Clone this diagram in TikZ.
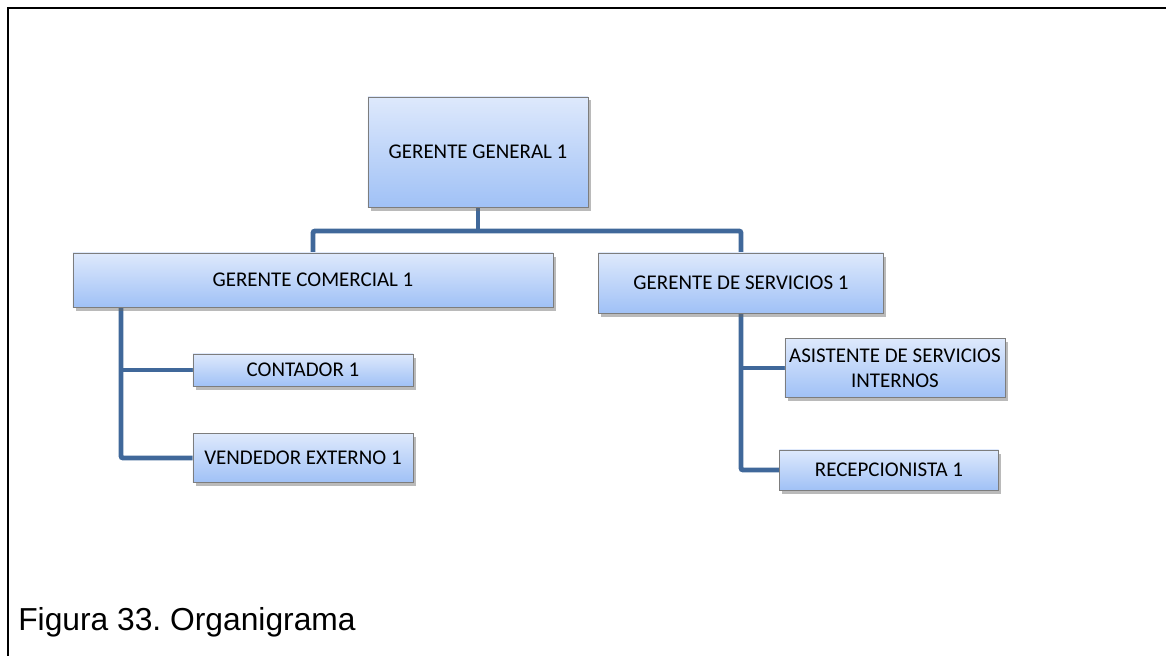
\documentclass[tikz,border=0pt]{standalone}
\usepackage{fontspec}
\setmainfont{Carlito}
\newfontfamily\captionfont{Liberation Sans}
\usepackage{tikz}
\usetikzlibrary{shadows,backgrounds}
\definecolor{boxtop}{RGB}{222, 233, 252}
\definecolor{boxbottom}{RGB}{160, 193, 246}
\definecolor{boxedge}{RGB}{125, 125, 125}
\definecolor{linkblue}{RGB}{64, 104, 154}
\frenchspacing

\begin{document}
\begin{tikzpicture}[
    x=0.025cm, y=-0.025cm,
    post/.style={draw=boxedge, line width=0.6pt, top color=boxtop, bottom color=boxbottom,
        align=center, inner sep=0pt, font=\fontsize{14.9}{17.7}\selectfont,
        drop shadow={shadow xshift=2pt, shadow yshift=-2.5pt, opacity=0.45, fill=black!60}},
    link/.style={draw=linkblue, line width=3.5pt, rounded corners=1.5pt}
]
    \useasboundingbox (0,0) rectangle (1166,656);

    % Frame
    \draw[line width=1.6pt] (8,656) -- (8,8) -- (1166,8);

    % Posts
    \node[post, minimum width=5.5cm, minimum height=2.75cm] (gg) at (478,152) {GERENTE GENERAL 1};
    \node[post, minimum width=12cm, minimum height=1.35cm] (gc) at (313,280) {GERENTE COMERCIAL 1};
    \node[post, minimum width=7.125cm, minimum height=1.5cm] (gs) at (741,283) {GERENTE DE SERVICIOS 1};
    \node[post, minimum width=5.5cm, minimum height=0.8cm] (cont) at (303,370) {CONTADOR 1};
    \node[post, minimum width=5.5cm, minimum height=1.225cm] (vend) at (303,458) {VENDEDOR EXTERNO 1};
    \node[post, minimum width=5.5cm, minimum height=1.475cm] (asis) at (895,368) {ASISTENTE DE SERVICIOS\\INTERNOS};
    \node[post, minimum width=5.475cm, minimum height=1cm] (recep) at (889,470) {RECEPCIONISTA 1};

    % Caption
    \node[anchor=base west, inner sep=0pt, font=\captionfont\fontsize{22.6}{26}\selectfont] (caption) at (18,630) {Figura 33. Organigrama};

    \coordinate (bus) at (478,231);
    \coordinate (lspine) at (121,307);

    \begin{scope}[on background layer]
        % Top level
        \draw[link] (gg.south) -- (bus);
        \draw[link] (gc.north) |- (bus) -| (gs.north);
        % Comercial branch
        \draw[link] (lspine) |- (vend.west);
        \draw[link] (cont.west) -- (cont.west -| lspine);
        % Servicios branch
        \draw[link] (gs.south) |- (recep.west);
        \draw[link] (asis.west) -- (asis.west -| gs.south);
    \end{scope}
\end{tikzpicture}
\end{document}
